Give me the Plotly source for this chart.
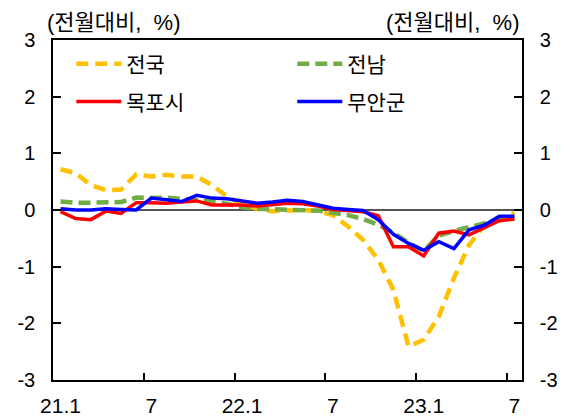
import plotly.graph_objects as go

months = ["21.1","21.2","21.3","21.4","21.5","21.6","21.7","21.8","21.9","21.10","21.11","21.12",
          "22.1","22.2","22.3","22.4","22.5","22.6","22.7","22.8","22.9","22.10","22.11","22.12",
          "23.1","23.2","23.3","23.4","23.5","23.6","23.7"]
tick_labels = ["21.1", "7", "22.1", "7", "23.1", "7"]
tick_months = ["21.1", "21.7", "22.1", "22.7", "23.1", "23.7"]

national = [0.72, 0.65, 0.44, 0.35, 0.36, 0.63, 0.59, 0.62, 0.59, 0.59, 0.44, 0.24,
            0.09, 0.02, -0.02, -0.01, 0.00, -0.02, -0.09, -0.29, -0.53, -0.88, -1.41, -2.41,
            -2.29, -1.88, -1.20, -0.62, -0.27, -0.15, -0.05]
jeonnam = [0.15, 0.13, 0.13, 0.14, 0.14, 0.22, 0.21, 0.22, 0.20, 0.18, 0.15, 0.11,
           0.05, 0.02, 0.01, 0.01, 0.00, -0.01, -0.05, -0.09, -0.16, -0.26, -0.40, -0.58,
           -0.72, -0.45, -0.37, -0.30, -0.24, -0.17, -0.15]
mokpo = [-0.03, -0.15, -0.17, -0.02, -0.06, 0.13, 0.13, 0.12, 0.14, 0.16, 0.09, 0.09,
         0.09, 0.07, 0.09, 0.12, 0.11, 0.07, 0.01, -0.01, -0.03, -0.10, -0.65, -0.65,
         -0.81, -0.41, -0.37, -0.44, -0.31, -0.19, -0.16]
muan = [0.02, 0.00, 0.00, 0.02, 0.01, 0.00, 0.21, 0.18, 0.15, 0.26, 0.21, 0.20,
        0.16, 0.12, 0.14, 0.17, 0.15, 0.09, 0.03, 0.01, -0.01, -0.17, -0.43, -0.59,
        -0.71, -0.56, -0.68, -0.35, -0.27, -0.11, -0.11]

y_ticks = [-3, -2, -1, 0, 1, 2, 3]
y_tick_text = ["-3", "-2", "-1", "0", "1", "2", "3"]

FONT = "Liberation Sans, Arial, Noto Sans CJK KR, sans-serif"
xs = list(range(len(months)))
tick_pos = [months.index(m) for m in tick_months]
boundary_pos = [p - 0.5 for p in tick_pos[1:]]

fig = go.Figure()
fig.add_trace(go.Scatter(x=xs, y=national, name="전국", mode="lines",
                         line=dict(color="#FFC000", width=4.5, dash="12px,7px"), legend="legend"))
fig.add_trace(go.Scatter(x=xs, y=jeonnam, name="전남", mode="lines",
                         line=dict(color="#70AD47", width=4.5, dash="12px,6px"), legend="legend"))
fig.add_trace(go.Scatter(x=xs, y=mokpo, name="목포시", mode="lines",
                         line=dict(color="#FF0000", width=3.5), legend="legend2"))
fig.add_trace(go.Scatter(x=xs, y=muan, name="무안군", mode="lines",
                         line=dict(color="#0000FF", width=3.5), legend="legend2"))
# invisible trace to carry the secondary axes
fig.add_trace(go.Scatter(x=[xs[0]], y=[0], xaxis="x2", yaxis="y2", mode="lines",
                         showlegend=False, hoverinfo="skip", line=dict(width=0)))

# the page body adds an 8px margin, so the figure is 8px smaller and shifted
xr = [-0.5, len(months) - 0.5]
fig.update_layout(
    width=563, height=412,
    margin=dict(l=45, r=49, t=32, b=40, autoexpand=False),
    paper_bgcolor="white", plot_bgcolor="white",
    font=dict(family=FONT, size=20, color="black"),
    xaxis=dict(range=xr, tickvals=tick_pos, ticktext=tick_labels, ticks="",
               showline=True, linecolor="black", linewidth=1.5, mirror=True,
               showgrid=False, zeroline=False, tickfont=dict(size=21), ticklabelstandoff=6,
               automargin=False),
    xaxis2=dict(range=xr, overlaying="x", side="bottom", tickvals=boundary_pos,
                ticks="inside", ticklen=7, tickwidth=1.5, tickcolor="black",
                showticklabels=False, showgrid=False, zeroline=False, showline=False,
                automargin=False),
    yaxis=dict(range=[-3, 3], tickvals=y_ticks, ticktext=y_tick_text, ticks="inside",
               ticklen=8, tickwidth=1.5, tickcolor="black",
               showline=True, linecolor="black", linewidth=1.5, showgrid=False,
               zeroline=True, zerolinecolor="#555555", zerolinewidth=2, ticklabelstandoff=12,
               automargin=False),
    yaxis2=dict(range=[-3, 3], overlaying="y", side="right", tickvals=y_ticks,
                ticktext=y_tick_text, ticks="inside", ticklen=8, tickwidth=1.5,
                tickcolor="black", showline=True, linecolor="black", linewidth=1.5,
                showgrid=False, zeroline=False, ticklabelstandoff=12, automargin=False),
    legend=dict(orientation="h", x=0.039, y=0.929, xanchor="left", yanchor="middle",
                entrywidth=161, entrywidthmode="pixels", itemwidth=45,
                font=dict(size=21), bgcolor="rgba(0,0,0,0)", traceorder="normal"),
    legend2=dict(orientation="h", x=0.039, y=0.818, xanchor="left", yanchor="middle",
                 entrywidth=161, entrywidthmode="pixels", itemwidth=45,
                 font=dict(size=21), bgcolor="rgba(0,0,0,0)", traceorder="normal"),
    annotations=[
        dict(text="(전월대비,\u00a0\u00a0%)", xref="paper", yref="paper", x=-0.016, y=1,
             xanchor="left", yanchor="middle", yshift=18, showarrow=False, font=dict(size=22)),
        dict(text="(전월대비,\u00a0\u00a0%)", xref="paper", yref="paper", x=1, y=1,
             xanchor="right", yanchor="middle", yshift=18, showarrow=False, font=dict(size=22)),
    ],
)

fig.write_html("out.html")
